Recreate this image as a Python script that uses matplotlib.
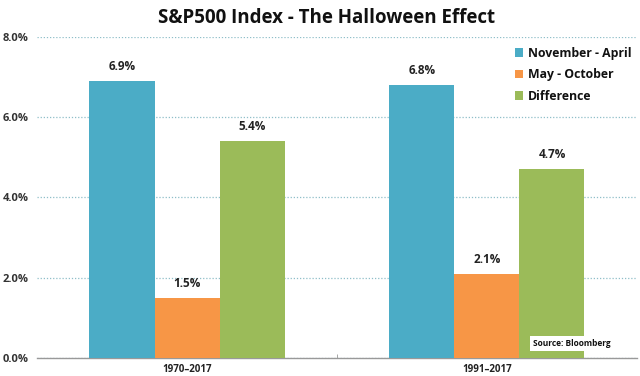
import matplotlib
matplotlib.use("Agg")
import matplotlib.pyplot as plt
import numpy as np

plt.rcParams['font.family'] = ['Open Sans', 'DejaVu Sans']

categories = ["1970–2017", "1991–2017"]
series_names = ["November - April", "May - October", "Difference"]
nov_apr = [6.9, 6.8]
may_oct = [1.5, 2.1]
difference = [5.4, 4.7]
yticks = [0, 2, 4, 6, 8]
ytick_labels = ["0.0%", "2.0%", "4.0%", "6.0%", "8.0%"]
colors = ["#4BACC6", "#F79646", "#9BBB59"]

fig = plt.figure(figsize=(6.4, 3.76), dpi=100)
ax = fig.add_axes([0.058, 0.048, 0.937, 0.854])

x = np.arange(len(categories))
w = 0.217
for i, (vals, name, c) in enumerate(zip([nov_apr, may_oct, difference], series_names, colors)):
    pos = x + (i - 1) * w
    bars = ax.bar(pos, vals, width=w, color=c, label=name, zorder=3)
    for b, v in zip(bars, vals):
        ax.text(b.get_x() + b.get_width() / 2, v + 0.2, f"{v:.1f}%", ha="center", va="bottom",
                fontsize=8.5, fontweight="bold", color="#222222", zorder=4)

ax.set_xlim(-0.5, 1.5)
ax.set_ylim(0, 8)
ax.set_yticks(yticks)
ax.set_yticklabels(ytick_labels, fontsize=8, fontweight="bold", color="#333333")
ax.set_xticks(x)
ax.set_xticklabels(categories, fontsize=7, fontweight="bold", color="#222222")
ax.tick_params(axis="y", length=0, pad=6)
ax.tick_params(axis="x", length=0, pad=4)
ax.set_xticks([0.5], minor=True)
ax.tick_params(axis="x", which="minor", length=3, color="#999999", direction="in")

ax.grid(axis="y", linestyle=(0, (1, 1.5)), color="#8FBFC8", linewidth=0.9, zorder=0)
for s in ["top", "right", "left"]:
    ax.spines[s].set_visible(False)
ax.spines["bottom"].set_color("#999999")
ax.spines["bottom"].set_linewidth(1.0)

fig.text(0.51, 0.953, "S&P500 Index - The Halloween Effect", ha="center", va="center",
         fontsize=13.5, fontweight="bold", color="#111111")

leg = ax.legend(loc="upper right", bbox_to_anchor=(1.0, 0.985), frameon=False,
                fontsize=8.8, handlelength=0.7, handleheight=0.7, handletextpad=0.4,
                labelspacing=0.7, borderaxespad=0)
for t in leg.get_texts():
    t.set_fontweight("bold")
    t.set_color("#111111")

ax.text(0.892, 0.045, "Source: Bloomberg", transform=ax.transAxes, ha="center", va="center",
        fontsize=6, fontweight="bold", color="#111111", zorder=5,
        bbox=dict(facecolor="white", edgecolor="none", pad=2))

fig.savefig("out.png", dpi=100)
